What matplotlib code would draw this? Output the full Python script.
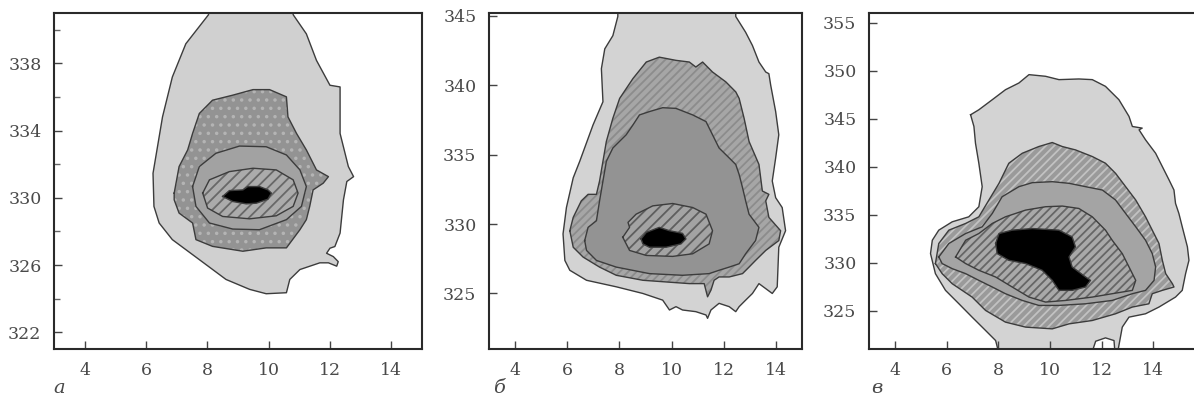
import numpy as np
import matplotlib
matplotlib.use("Agg")
import matplotlib.pyplot as plt

# contour boundaries, (x, y) pairs

# --- panel a ---
a_outer = [(8.04, 341.6), (8.04, 340.9), (7.30, 339.17), (6.86, 337.19), (6.54, 334.82), (6.23, 331.46),
           (6.26, 329.49), (6.43, 328.5), (6.86, 327.51), (7.74, 326.32), (8.61, 325.14), (9.38, 324.55),
           (9.92, 324.29), (10.58, 324.35), (10.69, 325.14), (11.02, 325.73), (11.67, 326.13), (11.95, 326.13),
           (12.22, 325.93), (12.27, 326.2), (12.11, 326.5), (11.89, 326.7), (12.0, 327.0), (12.16, 327.1),
           (12.33, 327.9), (12.44, 329.88), (12.55, 330.97), (12.77, 331.26), (12.6, 331.86), (12.33, 333.83),
           (12.33, 336.6), (12.0, 336.7), (11.56, 338.18), (11.23, 339.76), (10.8, 340.9), (10.8, 341.6)]
a_ring = [(6.92, 330.28), (7.08, 331.86), (7.36, 332.85), (7.52, 333.83), (7.74, 335.02), (8.17, 335.81),
          (8.83, 336.11), (9.49, 336.44), (10.03, 336.44), (10.58, 336.01), (10.63, 334.82), (10.91, 333.83),
          (11.23, 332.85), (11.56, 331.66), (11.95, 331.26), (11.78, 330.87), (11.45, 330.47), (11.34, 329.49),
          (11.23, 328.7), (11.02, 328.1), (10.58, 327.02), (9.92, 327.02), (9.16, 326.82), (8.17, 327.11),
          (7.63, 327.51), (7.52, 328.5), (7.08, 329.09), (6.92, 329.88)]
a_mid = [(7.52, 330.67), (7.74, 331.86), (8.28, 332.65), (9.05, 333.08), (9.92, 333.04), (10.58, 332.55),
         (11.02, 331.66), (11.23, 330.67), (11.07, 329.49), (10.58, 328.7), (9.7, 328.1), (8.83, 328.14),
         (8.07, 328.5), (7.63, 329.49)]
a_inner = [(7.85, 330.28), (8.07, 331.07), (8.72, 331.56), (9.49, 331.76), (10.25, 331.66), (10.8, 331.07),
           (10.96, 330.28), (10.8, 329.49), (10.25, 328.93), (9.38, 328.75), (8.5, 328.89), (8.01, 329.39)]
a_core = [(8.5, 330.08), (8.72, 330.43), (9.16, 330.47), (9.32, 330.67), (9.7, 330.67), (9.98, 330.47),
          (10.09, 330.28), (9.98, 329.92), (9.6, 329.68), (9.27, 329.64), (8.83, 329.78)]

# --- panel b ---
b_outer = [(7.94, 345.6), (7.94, 344.95), (7.75, 343.57), (7.44, 342.62), (7.31, 341.19), (7.37, 338.81),
           (6.99, 337.14), (6.48, 334.52), (6.23, 333.33), (5.97, 331.19), (5.84, 329.29), (5.91, 327.38),
           (6.1, 326.67), (6.74, 325.95), (7.88, 325.48), (8.9, 325.0), (9.66, 324.52), (9.92, 323.81),
           (10.17, 324.05), (10.42, 323.81), (10.93, 323.69), (11.32, 323.45), (11.38, 323.21), (11.51, 323.81),
           (11.82, 324.29), (12.21, 324.05), (12.46, 323.69), (12.59, 324.05), (12.84, 324.52), (13.1, 325.0),
           (13.35, 325.71), (13.86, 325.0), (14.05, 325.48), (14.11, 328.33), (14.37, 329.52), (14.24, 331.19),
           (13.99, 331.9), (13.86, 333.1), (13.99, 334.76), (14.11, 336.43), (13.99, 338.1), (13.8, 340.0),
           (13.73, 340.83), (13.61, 340.95), (13.35, 341.67), (13.1, 342.86), (12.84, 343.81), (12.46, 344.95),
           (12.46, 345.6)]
b_ring = [(6.1, 329.52), (6.23, 330.48), (6.54, 331.67), (6.8, 332.14), (7.12, 332.14), (7.24, 333.1),
          (7.37, 334.52), (7.5, 335.95), (7.75, 337.62), (8.01, 339.05), (8.52, 340.48), (9.03, 341.67),
          (9.53, 342.02), (10.17, 341.79), (10.68, 341.67), (10.93, 341.31), (11.19, 341.67), (11.57, 340.95),
          (12.08, 340.24), (12.46, 339.52), (12.59, 339.05), (12.78, 337.62), (12.97, 335.95), (13.35, 334.29),
          (13.48, 332.38), (13.73, 332.14), (13.61, 331.67), (13.73, 330.48), (14.18, 329.52), (14.11, 328.81),
          (13.61, 328.1), (13.22, 327.38), (12.97, 326.9), (12.72, 326.43), (12.21, 326.19), (11.82, 326.19),
          (11.63, 325.95), (11.51, 325.24), (11.38, 324.76), (11.25, 325.71), (10.68, 325.71), (9.79, 325.83),
          (8.9, 325.95), (7.88, 326.31), (7.24, 326.9), (6.61, 327.62), (6.23, 328.33)]
b_mid = [(6.67, 328.81), (6.8, 329.76), (7.12, 330.24), (7.24, 331.67), (7.37, 333.1), (7.5, 334.52),
         (7.75, 335.48), (8.26, 336.43), (8.52, 337.14), (8.77, 337.86), (9.15, 338.1), (9.66, 338.38),
         (10.17, 338.33), (10.81, 337.86), (11.32, 337.38), (11.57, 336.43), (11.82, 335.48), (12.21, 334.76),
         (12.46, 334.29), (12.59, 333.57), (12.72, 332.62), (12.84, 331.67), (12.97, 330.71), (13.35, 329.76),
         (13.22, 328.81), (12.84, 327.86), (12.59, 327.14), (12.21, 326.9), (11.82, 326.67), (11.44, 326.43),
         (10.42, 326.31), (9.15, 326.43), (7.88, 326.9), (7.12, 327.38), (6.74, 328.1)]
b_inner = [(8.13, 329.05), (8.39, 329.76), (8.33, 330.12), (8.64, 330.71), (9.28, 331.31), (10.04, 331.48),
           (10.81, 331.19), (11.32, 330.71), (11.57, 329.52), (11.44, 328.57), (10.81, 327.86), (10.04, 327.67),
           (9.03, 327.74), (8.39, 328.1)]
b_core = [(8.83, 328.93), (9.03, 329.4), (9.53, 329.76), (9.92, 329.52), (10.42, 329.33), (10.55, 328.93),
          (10.36, 328.57), (9.79, 328.33), (9.15, 328.33), (8.9, 328.57)]

# --- panel c ---
c_outer = [(6.93, 345.4), (7.25, 345.92), (7.77, 346.97), (8.28, 348.01), (8.8, 348.71), (9.19, 349.58),
           (9.83, 349.41), (10.35, 349.06), (11.12, 349.13), (11.64, 349.06), (12.15, 348.36), (12.67, 346.97),
           (13.06, 345.23), (13.19, 344.18), (13.57, 344.01), (13.45, 343.83), (13.7, 342.79), (14.09, 341.39),
           (14.35, 340.0), (14.61, 338.61), (14.8, 337.56), (14.86, 336.17), (14.99, 335.12), (15.12, 333.73),
           (15.32, 331.64), (15.38, 330.24), (15.25, 328.85), (15.12, 327.11), (14.86, 326.41), (14.22, 325.37),
           (13.7, 324.67), (13.06, 324.32), (12.8, 323.28), (12.61, 320.5), (12.52, 320.5), (12.48, 321.88),
           (12.15, 322.16), (11.77, 321.81), (11.61, 320.5), (8.03, 320.5), (7.9, 321.88), (7.51, 322.93),
           (6.99, 324.32), (6.48, 325.71), (5.96, 327.11), (5.57, 328.85), (5.38, 330.94), (5.45, 332.33),
           (5.7, 333.38), (6.22, 334.25), (6.86, 334.77), (7.25, 335.82), (7.38, 337.91), (7.25, 340.35),
           (7.12, 342.44), (7.06, 344.18)]
c_ring = [(5.57, 329.9), (5.7, 331.99), (6.09, 333.38), (6.74, 334.08), (7.25, 334.77), (7.64, 336.52),
          (8.03, 338.26), (8.41, 340.35), (8.93, 341.39), (9.57, 342.09), (10.09, 342.51), (10.48, 342.09),
          (10.99, 341.74), (11.64, 341.05), (12.15, 340.35), (12.54, 339.3), (12.93, 337.91), (13.32, 336.52),
          (13.7, 334.77), (13.96, 333.38), (14.22, 331.99), (14.35, 330.24), (14.48, 328.85), (14.74, 327.8),
          (14.8, 327.46), (14.35, 327.11), (13.96, 326.76), (13.83, 325.71), (13.19, 325.37), (12.54, 324.67),
          (11.64, 323.97), (10.74, 323.62), (10.09, 323.1), (9.06, 323.28), (8.28, 323.8), (7.51, 325.02),
          (6.99, 326.41), (6.22, 327.8), (5.83, 328.85)]
c_mid = [(5.7, 330.59), (6.09, 331.99), (6.74, 333.03), (7.38, 333.73), (7.77, 335.12), (8.15, 336.86),
         (8.8, 337.91), (9.32, 338.33), (10.09, 338.43), (10.74, 338.26), (11.38, 337.91), (12.03, 337.56),
         (12.54, 336.52), (12.93, 335.12), (13.32, 333.73), (13.7, 332.33), (13.96, 330.94), (14.09, 329.55),
         (14.03, 328.15), (13.7, 327.11), (13.19, 326.76), (12.41, 326.06), (11.38, 325.71), (10.35, 325.54),
         (9.57, 325.54), (8.93, 326.06), (8.28, 326.76), (7.77, 327.46), (7.25, 328.15), (6.74, 328.85),
         (6.22, 329.37), (5.83, 329.9)]
c_inner = [(6.35, 330.59), (6.74, 332.33), (7.25, 333.03), (7.77, 334.08), (8.28, 334.77), (9.06, 335.47),
           (9.83, 335.82), (10.48, 335.89), (11.12, 335.64), (11.64, 334.77), (12.15, 333.38), (12.41, 332.33),
           (12.8, 330.94), (13.06, 329.55), (13.32, 328.15), (13.19, 327.11), (12.41, 326.76), (11.64, 326.41),
           (10.61, 326.06), (9.83, 325.89), (9.19, 326.41), (8.54, 327.46), (7.9, 328.5), (7.25, 329.2),
           (6.74, 329.9)]
c_core = [(7.9, 331.99), (8.03, 333.03), (8.54, 333.38), (9.32, 333.55), (10.35, 333.38), (10.86, 332.68),
          (10.99, 331.64), (10.74, 330.59), (10.86, 329.55), (11.38, 328.5), (11.57, 328.15), (11.38, 327.46),
          (10.86, 327.11), (10.35, 327.11), (10.09, 328.15), (9.7, 329.2), (9.06, 329.9), (8.41, 330.24),
          (7.96, 330.94)]

x_ticks = [4, 6, 8, 10, 12, 14]
a_yticks = [322, 326, 330, 334, 338]
b_yticks = [325, 330, 335, 340, 345]
c_yticks = [325, 330, 335, 340, 345, 350, 355]
panel_names = ["а", "б", "в"]

plt.rcParams['font.family'] = ['DejaVu Serif']
plt.rcParams['hatch.linewidth'] = 1.3

EDGE = "#3c3c3c"
TXT = "#4a4a4a"


def region(ax, pts, face, z, hatch=None, hcol=None):
    xs = [p[0] for p in pts] + [pts[0][0]]
    ys = [p[1] for p in pts] + [pts[0][1]]
    ax.fill(xs, ys, facecolor=face, edgecolor="none", lw=0, zorder=z)
    if hatch:
        ax.fill(xs, ys, facecolor="none", edgecolor=hcol, hatch=hatch, lw=0, zorder=z + 0.1)
    ax.plot(xs, ys, color=EDGE, lw=1.0, zorder=z + 0.2)


def style(ax, xlim, ylim, yticks, yminor=None):
    ax.set_xlim(*xlim)
    ax.set_ylim(*ylim)
    ax.set_xticks(x_ticks)
    ax.set_yticks(yticks)
    if yminor is not None:
        ax.set_yticks(yminor, minor=True)
    ax.tick_params(direction="in", length=6, width=1.0, colors="#444444",
                   labelsize=12.5, labelcolor=TXT, pad=9)
    ax.tick_params(which="minor", direction="in", length=4, width=1.0, colors="#666666")
    for s in ax.spines.values():
        s.set_linewidth(1.5)
        s.set_color("#2a2a2a")
        s.set_zorder(10)


fig = plt.figure(figsize=(11.94, 3.98), dpi=100)
bot, hgt = 0.1231, 0.8442
ax1 = fig.add_axes([0.0452, bot, 0.3082, hgt])
ax2 = fig.add_axes([0.4095, bot, 0.2622, hgt])
ax3 = fig.add_axes([0.7278, bot, 0.2814, hgt])

# panel a
region(ax1, a_outer, "#d0d0d0", 1)
region(ax1, a_ring, "#939393", 2, "..", "#b4b4b4")
region(ax1, a_mid, "#a2a2a2", 3)
region(ax1, a_inner, "#ababab", 4, "///", "#686868")
region(ax1, a_core, "#000000", 5)
style(ax1, (3, 15), (321, 341), a_yticks, [324, 328, 332, 336, 340])

# panel b
region(ax2, b_outer, "#d3d3d3", 1)
region(ax2, b_ring, "#a6a6a6", 2, "////", "#8c8c8c")
region(ax2, b_mid, "#939393", 3)
region(ax2, b_inner, "#a3a3a3", 4, "///", "#5e5e5e")
region(ax2, b_core, "#000000", 5)
style(ax2, (3, 15), (321, 345.2), b_yticks)

# panel c
region(ax3, c_outer, "#d3d3d3", 1)
region(ax3, c_ring, "#9a9a9a", 2, "////", "#c2c2c2")
region(ax3, c_mid, "#a4a4a4", 3)
region(ax3, c_inner, "#a9a9a9", 4, "////", "#666666")
region(ax3, c_core, "#000000", 5)
style(ax3, (3, 16), (321, 356), c_yticks)

for xpos, name in zip([53, 493, 871], panel_names):
    fig.text(xpos / 1194, 0.012, name, fontsize=14, style="italic", color=TXT, va="baseline")

fig.savefig("out.png", dpi=100)
